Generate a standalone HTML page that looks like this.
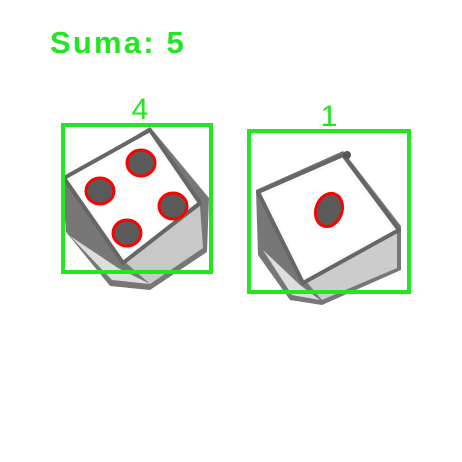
<!DOCTYPE html>
<html><head><style>
html,body{margin:0;padding:0;background:#fff;}
svg{display:block;}
</style></head><body>
<svg width="462" height="462" viewBox="0 0 462 462">
<rect width="462" height="462" fill="#fff"/>
<text x="50" y="53" font-family="Liberation Sans, sans-serif" font-weight="bold" font-size="31" letter-spacing="2.2" fill="#22e622">Suma: 5</text>
<g>
<polygon points="62,180 150,127 209,198 207,252 150,290 110,286 66,232" fill="#777"/>
<polygon points="70,236 118,268 150,284 112,280" fill="#ddd"/>
<polygon points="125,262 200,206 203,248 150,284" fill="#c8c8c8"/>
<polygon points="64,178 150,130 200,203 123,263" fill="#fafafa" stroke="#666" stroke-width="4" stroke-linejoin="round"/>
<polygon points="70,182 148,136 195,203 125,256" fill="#fff"/>
</g>
<g>
<polygon points="256,190 343,151 401,226 401,270 322,305 290,300 258,255" fill="#777"/>
<polygon points="263,250 300,285 320,300 292,295" fill="#ddd"/>
<polygon points="305,280 397,232 397,268 322,300" fill="#ccc"/>
<polygon points="258,192 343,155 399,230 303,283" fill="#fafafa" stroke="#666" stroke-width="4" stroke-linejoin="round"/>
<polygon points="264,195 341,162 392,230 305,276" fill="#fff"/>
<circle cx="347" cy="155" r="4" fill="#555"/>
</g>
<g fill="#5a5a5a" stroke="#ff0000" stroke-width="3">
<ellipse cx="100" cy="191" rx="14" ry="13"/>
<ellipse cx="141" cy="163" rx="14" ry="13"/>
<ellipse cx="173" cy="206" rx="14" ry="13"/>
<ellipse cx="127" cy="233" rx="14" ry="13"/>
<ellipse cx="329" cy="210" rx="13" ry="17" transform="rotate(20 329 210)"/>
</g>
<g fill="none" stroke="#22e622" stroke-width="4">
<rect x="63" y="125" width="148" height="147"/>
<rect x="249" y="131" width="160" height="161"/>
</g>
<text x="140" y="119" text-anchor="middle" font-family="Liberation Sans, sans-serif" font-size="30" fill="#22e622">4</text>
<text x="329" y="126" text-anchor="middle" font-family="Liberation Sans, sans-serif" font-size="30" fill="#22e622">1</text>
</svg>
</body></html>
